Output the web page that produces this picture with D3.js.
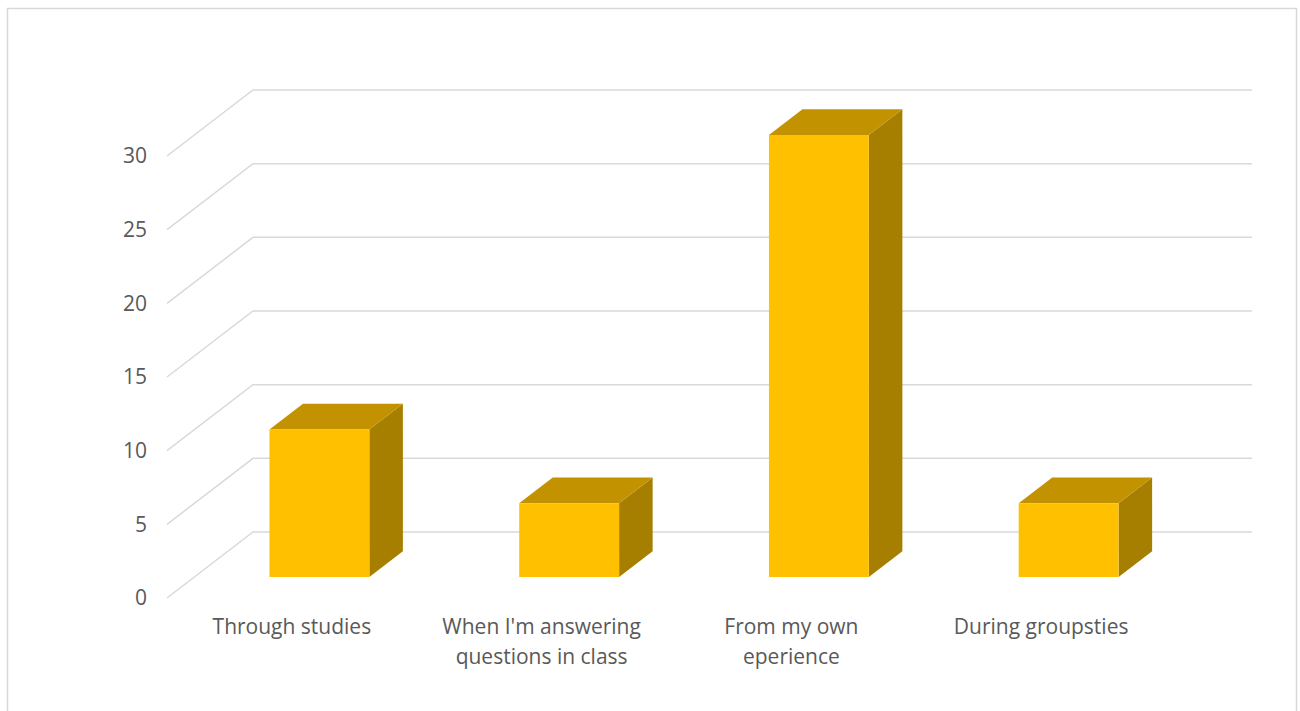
<!DOCTYPE html>
<html>
<head>
<meta charset="utf-8">
<script src="https://cdn.jsdelivr.net/npm/d3@7"></script>
<style>
  body { margin: 0; background: #fff; }
</style>
</head>
<body>
<div id="chart"></div>
<script>
// Chart data
const categories = [
    ["Through studies"],
    ["When I'm answering", "questions in class"],
    ["From my own", "eperience"],
    ["During groupsties"]
];
const values = [10, 5, 30, 5];
const yTicks = [0, 5, 10, 15, 20, 25, 30];

const W = 1300, H = 711;
const font = "Open Sans, sans-serif";

// front-left corner of the floor and 3D depth offset
const origin = { x: 167, y: 598 };
const depth = { dx: 86, dy: -66 };
const barZ = [0.32, 0.71]; // bar front/back as depth fraction

const svg = d3.select("#chart")
    .append("svg")
    .attr("width", W)
    .attr("height", H);

// chart border
svg.append("rect")
    .attr("x", 7.5).attr("y", 8.5)
    .attr("width", 1289).attr("height", 720)
    .attr("fill", "#fff")
    .attr("stroke", "#d9d9d9")
    .attr("stroke-width", 1.5);

const keys = categories.map((d, i) => i);

const x = d3.scaleBand()
    .domain(keys)
    .range([0, 999])
    .paddingInner(0.6)
    .paddingOuter(0.3);

const xLabel = d3.scaleBand()
    .domain(keys)
    .range([0, 999]);

const y = d3.scaleLinear()
    .domain([0, 30])
    .range([0, 442]);

// project (x offset, value, depth fraction) to screen
function P(xo, v, z) {
    return [origin.x + xo + depth.dx * z, origin.y - y(v) + depth.dy * z];
}

// gridlines: diagonal on side wall + horizontal on back wall
const grid = svg.append("g")
    .attr("fill", "none")
    .attr("stroke", "#d9d9d9")
    .attr("stroke-width", 1.5);

grid.selectAll("path")
    .data(yTicks)
    .enter()
    .append("path")
    .attr("d", d => {
        const a = P(0, d, 0), b = P(0, d, 1), c = P(999, d, 1);
        return `M${a}L${b}L${c}`;
    });

// y tick labels
svg.append("g")
    .selectAll("text")
    .data(yTicks)
    .enter()
    .append("text")
    .attr("x", 147)
    .attr("y", d => P(0, d, 0)[1])
    .attr("dy", "0.35em")
    .attr("text-anchor", "end")
    .style("font-family", font)
    .style("font-size", "21px")
    .style("fill", "#595959")
    .text(d => d);

// bars
const bars = svg.append("g")
    .selectAll("g")
    .data(keys)
    .enter()
    .append("g");

const poly = pts => "M" + pts.map(p => p.join(",")).join("L") + "Z";

// side face
bars.append("path")
    .attr("fill", "#a67f00")
    .attr("d", i => {
        const x1 = x(i) + x.bandwidth();
        return poly([P(x1, 0, barZ[0]), P(x1, values[i], barZ[0]), P(x1, values[i], barZ[1]), P(x1, 0, barZ[1])]);
    });

// top face
bars.append("path")
    .attr("fill", "#c39200")
    .attr("d", i => {
        const x0 = x(i), x1 = x(i) + x.bandwidth();
        return poly([P(x0, values[i], barZ[0]), P(x1, values[i], barZ[0]), P(x1, values[i], barZ[1]), P(x0, values[i], barZ[1])]);
    });

// front face
bars.append("path")
    .attr("fill", "#ffc000")
    .attr("d", i => {
        const x0 = x(i), x1 = x(i) + x.bandwidth();
        return poly([P(x0, 0, barZ[0]), P(x1, 0, barZ[0]), P(x1, values[i], barZ[0]), P(x0, values[i], barZ[0])]);
    });

// category labels
const labels = svg.append("g")
    .selectAll("text")
    .data(keys)
    .enter()
    .append("text")
    .attr("text-anchor", "middle")
    .style("font-family", font)
    .style("font-size", "21px")
    .style("fill", "#595959");

labels.selectAll("tspan")
    .data(i => categories[i].map(t => ({ i, t })))
    .enter()
    .append("tspan")
    .attr("x", d => origin.x + xLabel(d.i) + xLabel.bandwidth() / 2)
    .attr("y", (d, j) => 634 + j * 30)
    .text(d => d.t);
</script>
</body>
</html>
